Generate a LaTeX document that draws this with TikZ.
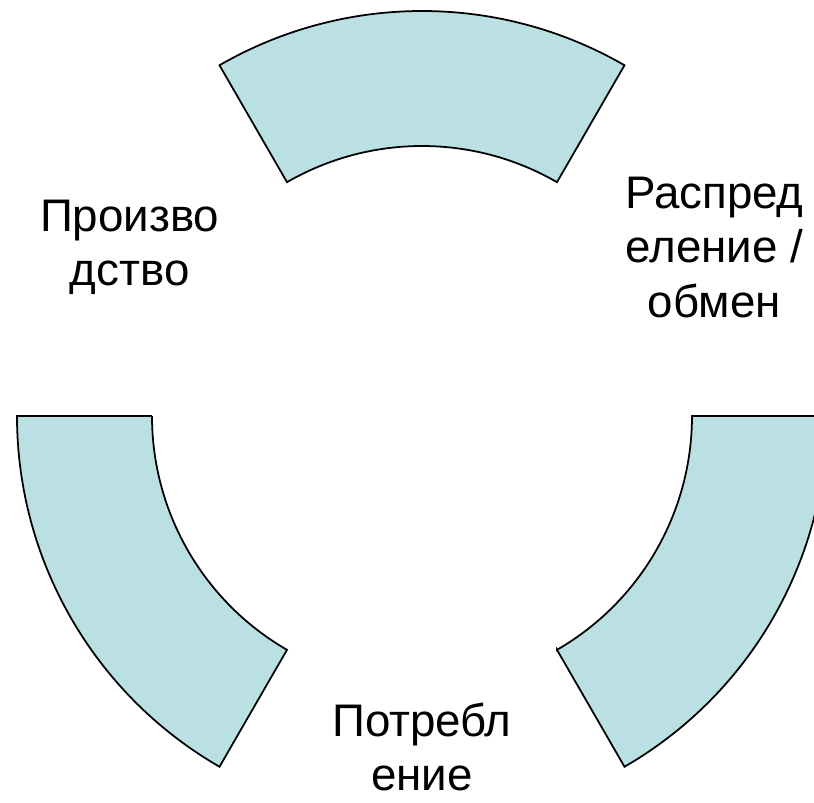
\documentclass[tikz,border=0pt]{standalone}
\usepackage{fontspec}
\setmainfont{Liberation Sans}
\usepackage{tikz}
\usetikzlibrary{positioning}
\definecolor{ringfill}{HTML}{BBE0E3}

\begin{document}
\begin{tikzpicture}[
      sector/.style={draw=black, line width=1pt, fill=ringfill, line join=miter},
      label/.style={align=center, inner sep=0pt,
                    font=\fontsize{26}{31}\selectfont}
    ]
      \clip (-8.44,-7.72) rectangle (7.84,8.32);
      % three ring sectors
      \foreach \a in {60,180,300}
        \draw[sector] (\a:5.4) -- (\a:8.1)
          arc[start angle=\a, end angle=\a+60, radius=8.1]
          -- (\a+60:5.4)
          arc[start angle=\a+60, end angle=\a, radius=5.4] -- cycle;
      \node[label] (prod) at (150:6.75) {Произво\\дство};
      \node[label] (distr) at (30:6.75) {Распред\\еление /\\обмен};
      \node[label] (cons) at (0,-6.62) {Потребл\\ение};
    \end{tikzpicture}
\end{document}
